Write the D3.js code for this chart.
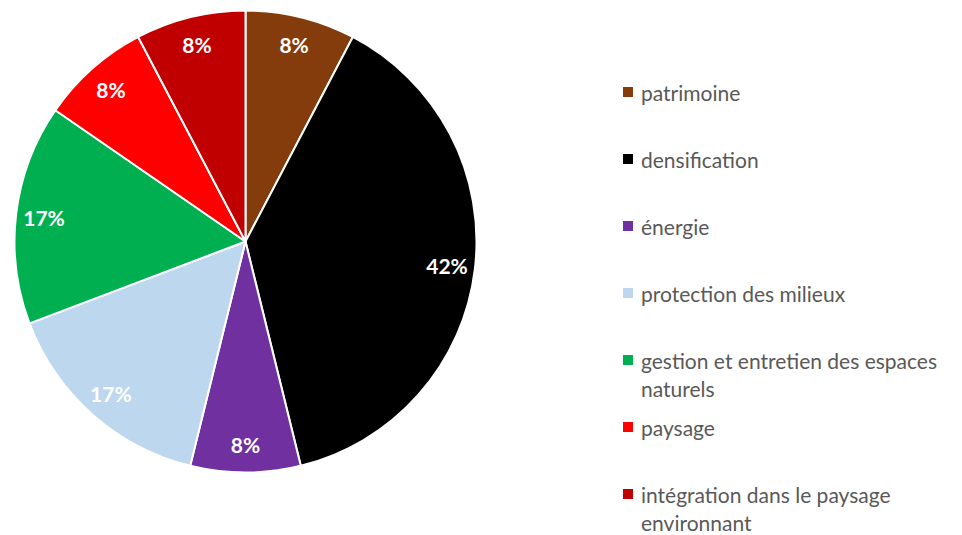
<!DOCTYPE html>
<html><head><meta charset="utf-8">
<script src="https://cdn.jsdelivr.net/npm/d3@7"></script>
<style>body{margin:0;background:#fff}svg{display:block}</style>
</head><body>
<svg id="c" width="962" height="535"></svg>
<script>
const categories = ["patrimoine","densification","énergie","protection des milieux","gestion et entretien des espaces naturels","paysage","intégration dans le paysage environnant"];
const counts = [1,5,1,2,2,1,1];
const pctLabels = ["8%","42%","8%","17%","17%","8%","8%"];
const colors = ["#843C0C","#000000","#7030A0","#BDD7EE","#00B050","#FF0000","#C00000"];

const svg = d3.select("#c");
const cx = 245.5, cy = 241.5, R = 231, labelR = 203;
const pie = d3.pie().sort(null).value(d => d.v);
const data = categories.map((c,i)=>({c, v:counts[i], lab:pctLabels[i], col:colors[i]}));
const arcs = pie(data);
const arc = d3.arc().innerRadius(0).outerRadius(R);
const larc = d3.arc().innerRadius(labelR).outerRadius(labelR);
const g = svg.append("g").attr("transform",`translate(${cx},${cy})`);
g.selectAll("path").data(arcs).join("path")
  .attr("d", arc).attr("fill", d=>d.data.col)
  .attr("stroke","#fff").attr("stroke-width",2).attr("stroke-linejoin","round");
g.selectAll("text").data(arcs).join("text")
  .attr("x", d=>larc.centroid(d)[0]).attr("y", d=>larc.centroid(d)[1])
  .attr("text-anchor","middle").attr("dominant-baseline","central")
  .attr("font-family","Lato, 'Open Sans', sans-serif").attr("font-weight","bold")
  .attr("font-size",21).attr("fill","#fff").text(d=>d.data.lab);

// legend
const ly = d3.scalePoint().domain(categories).range([92,494]);
const lg = svg.append("g");
const maxW = 318;
categories.forEach((c,i)=>{
  const y = ly(c);
  lg.append("rect").attr("x",623).attr("y",y-5).attr("width",10).attr("height",10).attr("fill",colors[i]);
  const t = lg.append("text").attr("x",641).attr("y",y).attr("dominant-baseline","central")
    .attr("font-family","Lato, 'Open Sans', sans-serif").attr("font-size",21).attr("fill","#595959");
  const words = c.split(" ");
  let line = [];
  let ts = t.append("tspan").attr("x",641).attr("dy",0);
  words.forEach(w=>{
    line.push(w);
    ts.text(line.join(" "));
    if (ts.node().getComputedTextLength() > maxW && line.length>1){
      line.pop(); ts.text(line.join(" "));
      line=[w];
      ts = t.append("tspan").attr("x",641).attr("dy",27.5).text(w);
    }
  });
});
</script>
</body></html>
